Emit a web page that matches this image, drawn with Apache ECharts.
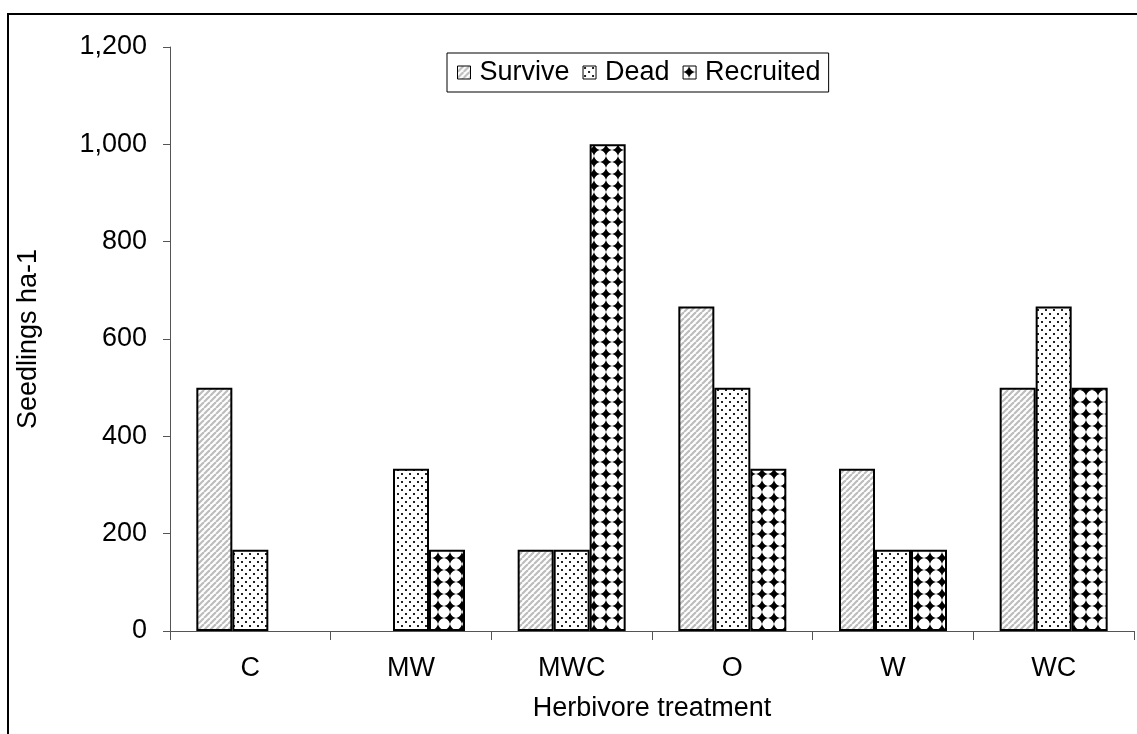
<!DOCTYPE html>
<html><head><meta charset="utf-8">
<script src="https://cdn.jsdelivr.net/npm/echarts@6/dist/echarts.min.js"></script>
<style>
html,body{margin:0;padding:0;background:#fff;}
#frame{position:absolute;left:7px;top:13px;width:1140px;height:740px;border:2px solid #000;box-sizing:border-box;}
#chart{position:absolute;left:0;top:0;width:1137px;height:734px;}
</style></head>
<body>
<div id="frame"></div>
<div id="chart"></div>
<script>
const categories = ['C','MW','MWC','O','W','WC'];
const survive   = [500, 0, 166.7, 666.7, 333.3, 500];
const dead      = [166.7, 333.3, 166.7, 500, 166.7, 666.7];
const recruited = [0, 166.7, 1000, 333.3, 166.7, 500];
const seriesNames = ['Survive','Dead','Recruited'];

function stripes(){
  const c=document.createElement('canvas'); c.width=6; c.height=6;
  const g=c.getContext('2d'); g.fillStyle='#fff'; g.fillRect(0,0,6,6);
  g.strokeStyle='#bdbdbd'; g.lineWidth=2.2;
  for(let k=-6;k<=12;k+=6){ g.beginPath(); g.moveTo(k,6); g.lineTo(k+6,0); g.stroke(); }
  return c;
}
function dots(){
  const c=document.createElement('canvas'); c.width=8; c.height=8;
  const g=c.getContext('2d'); g.fillStyle='#fff'; g.fillRect(0,0,8,8);
  g.fillStyle='#222';
  g.fillRect(1,1,2,2); g.fillRect(5,5,2,2);
  return c;
}
function diamonds(){
  const c=document.createElement('canvas'); c.width=12; c.height=12;
  const g=c.getContext('2d'); g.fillStyle='#fff'; g.fillRect(0,0,12,12);
  g.fillStyle='#000';
  g.beginPath(); g.moveTo(6,0); g.quadraticCurveTo(7.2,4.8,12,6); g.quadraticCurveTo(7.2,7.2,6,12);
  g.quadraticCurveTo(4.8,7.2,0,6); g.quadraticCurveTo(4.8,4.8,6,0); g.closePath(); g.fill();
  return c;
}
const pats=[stripes(),dots(),diamonds()];
const datas=[survive,dead,recruited];

const chart=echarts.init(document.getElementById('chart'),null,{renderer:'canvas'});
const font='Liberation Sans, Arial, sans-serif';
const fs=27;
chart.setOption({
  animation:false,
  backgroundColor:'transparent',
  grid:{left:170,right:3,top:47,bottom:103,containLabel:false},
  legend:{
    left:447, top:53,
    data:seriesNames,
    icon:'rect', itemWidth:13, itemHeight:13, itemGap:13,
    padding:[6,8,6,10],
    borderColor:'#000', borderWidth:1, backgroundColor:'#fff',
    itemStyle:{borderWidth:1},
    textStyle:{fontFamily:font,fontSize:fs,color:'#000',padding:[0,0,0,4]}
  },
  xAxis:{
    type:'category', data:categories,
    name:'Herbivore treatment', nameLocation:'middle', nameGap:64,
    nameTextStyle:{fontFamily:font,fontSize:fs,color:'#000'},
    axisLine:{lineStyle:{color:'#555',width:1}},
    axisTick:{show:true,length:9,alignWithLabel:false,lineStyle:{color:'#555'}},
    axisLabel:{fontFamily:font,fontSize:fs,color:'#000',margin:24}
  },
  yAxis:{
    type:'value', min:0, max:1200, interval:200,
    name:'Seedlings ha-1', nameLocation:'middle', nameGap:128,
    nameTextStyle:{fontFamily:font,fontSize:fs,color:'#000'},
    axisLine:{show:true,lineStyle:{color:'#555',width:1}},
    axisTick:{show:true,length:7,lineStyle:{color:'#555'}},
    splitLine:{show:false},
    axisLabel:{fontFamily:font,fontSize:fs,color:'#000',margin:23,
      formatter:v=>v.toLocaleString('en-US')}
  },
  series:datas.map((d,i)=>({
    name:seriesNames[i], type:'bar',
    data:d.map(v=>v===0?{value:v,itemStyle:{borderWidth:0}}:v),
    barWidth:36, barGap:'0%',
    itemStyle:{color:{image:pats[i],repeat:'repeat'},borderColor:'#000',borderWidth:2}
  }))
});
</script>
</body></html>
